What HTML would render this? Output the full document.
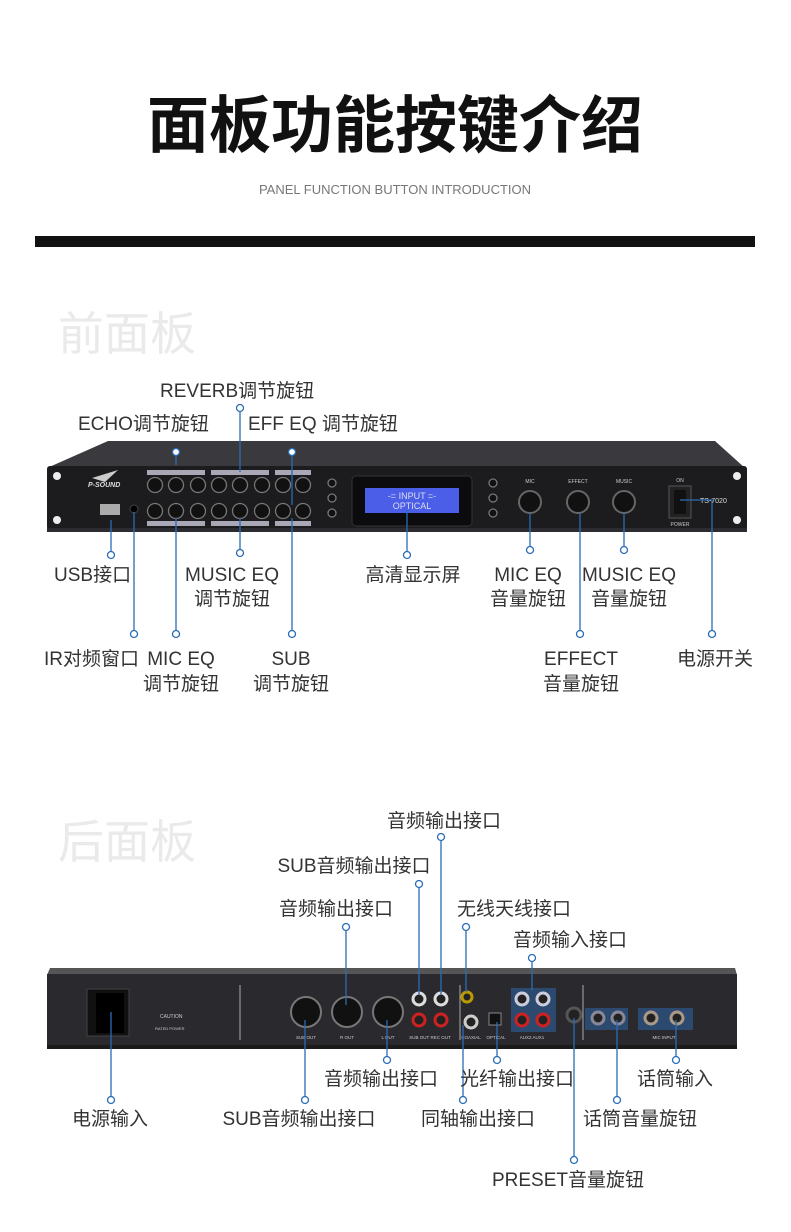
<!DOCTYPE html>
<html><head><meta charset="utf-8"><style>
html,body{margin:0;padding:0;background:#fff;}
svg{display:block}
text{font-family:"Liberation Sans","Noto Sans CJK SC",sans-serif;}
</style></head><body>
<svg width="791" height="1232" viewBox="0 0 791 1232" xmlns="http://www.w3.org/2000/svg">
<text x="395" y="147" text-anchor="middle" font-size="62" font-weight="bold" fill="#111" font-family="'Noto Sans CJK SC',sans-serif">面板功能按键介绍</text>
<text x="395" y="194" text-anchor="middle" font-size="13" fill="#777">PANEL FUNCTION BUTTON INTRODUCTION</text>
<rect x="35" y="236" width="720" height="11" fill="#111"/>
<text x="58" y="350" font-size="46" fill="#eaeaea" font-family="'Noto Serif CJK SC',serif">前面板</text>
<text x="58" y="858" font-size="46" fill="#eaeaea" font-family="'Noto Serif CJK SC',serif">后面板</text>

<!-- FRONT PANEL -->
<polygon points="108,441 715,441 745,468 47,468" fill="#3a3a3e"/>
<rect x="47" y="466" width="700" height="64" rx="3" fill="#1c1c1f"/>
<rect x="47" y="528" width="700" height="4" fill="#2c2c30"/>
<circle cx="57" cy="476" r="4" fill="#eee"/><circle cx="57" cy="520" r="4" fill="#eee"/>
<circle cx="737" cy="476" r="4" fill="#eee"/><circle cx="737" cy="520" r="4" fill="#eee"/>
<text x="88" y="487" font-size="7" fill="#ddd" font-style="italic" font-weight="bold">P-SOUND</text>
<path d="M92,478 L118,470 L105,482 Z" fill="#ccc"/>
<rect x="100" y="504" width="20" height="11" fill="#aaa"/>
<circle cx="134" cy="509" r="4" fill="#000" stroke="#444"/>
<g fill="#ccd" opacity="0.8">
<rect x="147" y="470" width="58" height="5"/><rect x="211" y="470" width="58" height="5"/><rect x="275" y="470" width="36" height="5"/>
<rect x="147" y="521" width="58" height="5"/><rect x="211" y="521" width="58" height="5"/><rect x="275" y="521" width="36" height="5"/>
</g>
<g fill="#111" stroke="#777" stroke-width="1.3">
<circle cx="155" cy="485" r="7.5"/><circle cx="176" cy="485" r="7.5"/><circle cx="198" cy="485" r="7.5"/><circle cx="219" cy="485" r="7.5"/><circle cx="240" cy="485" r="7.5"/><circle cx="262" cy="485" r="7.5"/><circle cx="283" cy="485" r="7.5"/><circle cx="303" cy="485" r="7.5"/>
<circle cx="155" cy="511" r="7.5"/><circle cx="176" cy="511" r="7.5"/><circle cx="198" cy="511" r="7.5"/><circle cx="219" cy="511" r="7.5"/><circle cx="240" cy="511" r="7.5"/><circle cx="262" cy="511" r="7.5"/><circle cx="283" cy="511" r="7.5"/><circle cx="303" cy="511" r="7.5"/>
<circle cx="332" cy="483" r="4"/><circle cx="332" cy="498" r="4"/><circle cx="332" cy="513" r="4"/>
<circle cx="493" cy="483" r="4"/><circle cx="493" cy="498" r="4"/><circle cx="493" cy="513" r="4"/>
</g>
<rect x="352" y="476" width="120" height="50" rx="4" fill="#0c0c0e" stroke="#333"/>
<rect x="365" y="488" width="94" height="25" fill="#4a5ee8"/>
<text x="412" y="499" text-anchor="middle" font-size="9" fill="#dde" font-family="'Liberation Mono',monospace">-= INPUT =-</text>
<text x="412" y="509" text-anchor="middle" font-size="9" fill="#dde" font-family="'Liberation Mono',monospace">OPTICAL</text>
<g fill="#111" stroke="#666" stroke-width="2"><circle cx="530" cy="502" r="11"/><circle cx="578" cy="502" r="11"/><circle cx="624" cy="502" r="11"/></g>
<g font-size="5" fill="#ccc" text-anchor="middle"><text x="530" y="483">MIC</text><text x="578" y="483">EFFECT</text><text x="624" y="483">MUSIC</text><text x="680" y="482">ON</text><text x="680" y="526">POWER</text></g>
<rect x="669" y="486" width="22" height="32" fill="#222" stroke="#555"/>
<rect x="674" y="490" width="12" height="24" fill="#111"/>
<text x="700" y="503" font-size="7" fill="#ddd">TS-7020</text>

<!-- REAR PANEL -->
<polygon points="50,968 735,968 737,975 47,975" fill="#555"/>
<rect x="47" y="974" width="690" height="73" fill="#2a2a2e"/>
<rect x="47" y="1045" width="690" height="4" fill="#1a1a1a"/>
<rect x="87" y="989" width="42" height="47" fill="#111" stroke="#444"/>
<rect x="96" y="993" width="28" height="40" fill="#000"/>
<text x="160" y="1018" font-size="5" fill="#ccc">CAUTION</text>
<text x="155" y="1030" font-size="4" fill="#ccc">RATED POWER</text>
<line x1="240" y1="985" x2="240" y2="1040" stroke="#aaa"/>
<line x1="460" y1="985" x2="460" y2="1040" stroke="#aaa"/>
<line x1="583" y1="985" x2="583" y2="1040" stroke="#aaa"/>
<g fill="#111" stroke="#777" stroke-width="2"><circle cx="306" cy="1012" r="15"/><circle cx="347" cy="1012" r="15"/><circle cx="388" cy="1012" r="15"/></g>
<rect x="511" y="988" width="45" height="44" fill="#2c4a70"/>
<rect x="585" y="1008" width="43" height="22" fill="#2c4a70"/>
<rect x="638" y="1008" width="55" height="22" fill="#2c4a70"/>
<g stroke-width="3" fill="#222"><circle cx="419" cy="999" r="6" stroke="#ddd"/><circle cx="441" cy="999" r="6" stroke="#ddd"/><circle cx="419" cy="1020" r="6" stroke="#c22"/><circle cx="441" cy="1020" r="6" stroke="#c22"/>
<circle cx="522" cy="999" r="6" stroke="#ccd"/><circle cx="543" cy="999" r="6" stroke="#ccd"/><circle cx="522" cy="1020" r="6" stroke="#c22"/><circle cx="543" cy="1020" r="6" stroke="#c22"/>
<circle cx="467" cy="997" r="5" stroke="#b90"/><circle cx="471" cy="1022" r="6" stroke="#ccc"/>
<circle cx="574" cy="1015" r="7" stroke="#555"/><circle cx="598" cy="1018" r="6" stroke="#889"/><circle cx="618" cy="1018" r="6" stroke="#889"/>
<circle cx="651" cy="1018" r="6" stroke="#a98"/><circle cx="677" cy="1018" r="6" stroke="#a98"/></g>
<rect x="489" y="1013" width="12" height="12" fill="#111" stroke="#888"/>
<g font-size="4.5" fill="#ccc" text-anchor="middle"><text x="306" y="1039">SUB OUT</text><text x="347" y="1039">R OUT</text><text x="388" y="1039">L OUT</text><text x="430" y="1039">SUB OUT REC OUT</text><text x="471" y="1039">COAXIAL</text><text x="496" y="1039">OPTICAL</text><text x="532" y="1039">AUX2 AUX1</text><text x="664" y="1039">MIC INPUT</text></g>

<!-- Leader lines -->
<g stroke="#2a6cb5" stroke-width="1.3" fill="#fff">
<line x1="240" y1="412" x2="240" y2="472"/><circle cx="240" cy="408" r="3.5"/>
<line x1="176" y1="455" x2="176" y2="465"/><circle cx="176" cy="452" r="3.5"/>
<line x1="292" y1="455" x2="292" y2="505"/><circle cx="292" cy="452" r="3.5"/>
<line x1="111" y1="520" x2="111" y2="552"/><circle cx="111" cy="555" r="3.5"/>
<line x1="134" y1="512" x2="134" y2="631"/><circle cx="134" cy="634" r="3.5"/>
<line x1="176" y1="518" x2="176" y2="631"/><circle cx="176" cy="634" r="3.5"/>
<line x1="240" y1="518" x2="240" y2="550"/><circle cx="240" cy="553" r="3.5"/>
<line x1="292" y1="518" x2="292" y2="631"/><circle cx="292" cy="634" r="3.5"/>
<line x1="407" y1="510" x2="407" y2="552"/><circle cx="407" cy="555" r="3.5"/>
<line x1="530" y1="513" x2="530" y2="547"/><circle cx="530" cy="550" r="3.5"/>
<line x1="580" y1="513" x2="580" y2="631"/><circle cx="580" cy="634" r="3.5"/>
<line x1="624" y1="513" x2="624" y2="547"/><circle cx="624" cy="550" r="3.5"/>
<polyline points="680,500 712,500 712,631" fill="none"/><circle cx="712" cy="634" r="3.5"/>

<line x1="441" y1="841" x2="441" y2="995"/><circle cx="441" cy="837" r="3.5"/>
<line x1="419" y1="888" x2="419" y2="995"/><circle cx="419" cy="884" r="3.5"/>
<line x1="346" y1="931" x2="346" y2="1005"/><circle cx="346" cy="927" r="3.5"/>
<line x1="466" y1="931" x2="466" y2="992"/><circle cx="466" cy="927" r="3.5"/>
<line x1="532" y1="962" x2="532" y2="990"/><circle cx="532" cy="958" r="3.5"/>
<line x1="111" y1="1012" x2="111" y2="1097"/><circle cx="111" cy="1100" r="3.5"/>
<line x1="305" y1="1020" x2="305" y2="1097"/><circle cx="305" cy="1100" r="3.5"/>
<line x1="387" y1="1020" x2="387" y2="1057"/><circle cx="387" cy="1060" r="3.5"/>
<line x1="463" y1="1025" x2="463" y2="1097"/><circle cx="463" cy="1100" r="3.5"/>
<line x1="497" y1="1022" x2="497" y2="1057"/><circle cx="497" cy="1060" r="3.5"/>
<line x1="574" y1="1018" x2="574" y2="1157"/><circle cx="574" cy="1160" r="3.5"/>
<line x1="617" y1="1020" x2="617" y2="1097"/><circle cx="617" cy="1100" r="3.5"/>
<line x1="676" y1="1020" x2="676" y2="1057"/><circle cx="676" cy="1060" r="3.5"/>
</g>

<!-- Labels -->
<g font-size="19" fill="#333">
<text x="160" y="397">REVERB调节旋钮</text>
<text x="78" y="430">ECHO调节旋钮</text>
<text x="248" y="430">EFF EQ 调节旋钮</text>
<text x="54" y="581">USB接口</text>
<text x="232" y="581" text-anchor="middle">MUSIC EQ</text>
<text x="232" y="605" text-anchor="middle">调节旋钮</text>
<text x="413" y="581" text-anchor="middle">高清显示屏</text>
<text x="528" y="581" text-anchor="middle">MIC EQ</text>
<text x="528" y="605" text-anchor="middle">音量旋钮</text>
<text x="629" y="581" text-anchor="middle">MUSIC EQ</text>
<text x="629" y="605" text-anchor="middle">音量旋钮</text>
<text x="44" y="665">IR对频窗口</text>
<text x="181" y="665" text-anchor="middle">MIC EQ</text>
<text x="181" y="690" text-anchor="middle">调节旋钮</text>
<text x="291" y="665" text-anchor="middle">SUB</text>
<text x="291" y="690" text-anchor="middle">调节旋钮</text>
<text x="581" y="665" text-anchor="middle">EFFECT</text>
<text x="581" y="690" text-anchor="middle">音量旋钮</text>
<text x="715" y="665" text-anchor="middle">电源开关</text>

<text x="444" y="827" text-anchor="middle">音频输出接口</text>
<text x="354" y="872" text-anchor="middle">SUB音频输出接口</text>
<text x="336" y="915" text-anchor="middle">音频输出接口</text>
<text x="514" y="915" text-anchor="middle">无线天线接口</text>
<text x="570" y="946" text-anchor="middle">音频输入接口</text>
<text x="381" y="1085" text-anchor="middle">音频输出接口</text>
<text x="517" y="1085" text-anchor="middle">光纤输出接口</text>
<text x="675" y="1085" text-anchor="middle">话筒输入</text>
<text x="110" y="1125" text-anchor="middle">电源输入</text>
<text x="299" y="1125" text-anchor="middle">SUB音频输出接口</text>
<text x="478" y="1125" text-anchor="middle">同轴输出接口</text>
<text x="640" y="1125" text-anchor="middle">话筒音量旋钮</text>
<text x="568" y="1186" text-anchor="middle">PRESET音量旋钮</text>
</g>
</svg>
</body></html>
